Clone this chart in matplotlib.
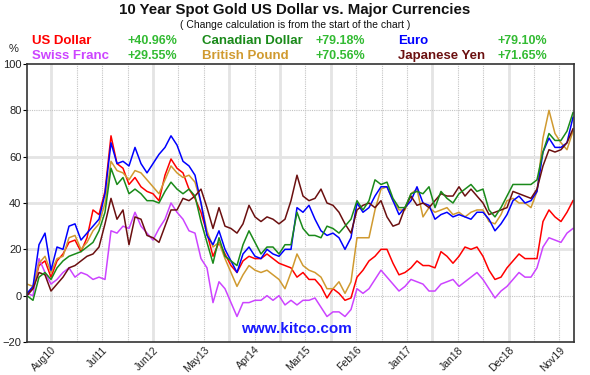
import numpy as np
import matplotlib
matplotlib.use("Agg")
import matplotlib.pyplot as plt

plt.rcParams['font.family'] = ['Liberation Sans', 'DejaVu Sans']

# sample index (evenly spaced samples across the 10-year window)
sample = np.arange(92)

usd = [1, 3, 13, 15, 8, 15, 18, 23, 24, 19, 25, 37, 35, 45, 69, 57, 55,
       48, 51, 47, 45, 44, 41, 52, 59, 55, 53, 46, 42, 36, 27, 17,
       23, 18, 13, 10, 15, 17, 16, 16, 18, 16, 14, 13, 12, 8, 10, 7,
       7, 4, -1, 3, 1, -2, -1, 8, 11, 15, 17, 20, 20, 14, 9, 10,
       12, 15, 13, 13, 12, 19, 17, 14, 17, 21, 20, 21, 17, 11, 7,
       8, 12, 15, 18, 16, 16, 16, 32, 37, 34, 32, 36, 41]
cad = [0, -2, 8, 10, 7, 12, 15, 17, 18, 19, 21, 23, 28, 36, 55, 48, 51,
       44, 46, 44, 41, 41, 40, 45, 49, 46, 44, 46, 43, 32, 23, 14,
       25, 17, 15, 13, 22, 28, 23, 18, 21, 21, 18, 22, 22, 36, 29, 26,
       26, 25, 30, 29, 27, 30, 33, 41, 37, 41, 50, 48, 49, 42, 38, 38,
       44, 45, 44, 47, 38, 45, 42, 40, 44, 46, 48, 45, 46, 37, 34,
       38, 43, 48, 48, 48, 48, 50, 62, 70, 67, 67, 71, 79]
eur = [1, 4, 22, 27, 11, 21, 20, 30, 31, 24, 27, 30, 33, 44, 66, 57, 58,
       56, 64, 57, 53, 57, 61, 64, 69, 65, 58, 56, 52, 40, 26, 22,
       28, 20, 15, 10, 18, 21, 17, 16, 20, 18, 17, 20, 20, 38, 36, 39,
       33, 28, 26, 27, 25, 20, 25, 40, 36, 38, 43, 47, 47, 41, 35, 38,
       41, 47, 40, 39, 33, 35, 36, 34, 35, 34, 33, 36, 36, 33, 28,
       31, 35, 41, 43, 40, 41, 45, 62, 68, 64, 64, 66, 77]
chf = [1, 0, 16, 10, 5, 7, 10, 12, 8, 10, 9, 7, 8, 7, 28, 27, 30,
       29, 36, 30, 27, 24, 29, 33, 40, 36, 33, 28, 27, 16, 12, -3,
       6, 3, -3, -9, -3, -3, -2, -2, 0, -2, 0, -4, -2, -4, -2, -2,
       -1, -5, -9, -7, -7, -9, -6, 3, 1, 3, 7, 11, 8, 5, 2, 4,
       7, 6, 5, 2, 2, 5, 6, 7, 4, 6, 8, 10, 7, 3, -1,
       2, 4, 7, 10, 8, 8, 12, 21, 25, 24, 23, 27, 29]
gbp = [5, 4, 14, 17, 10, 16, 17, 25, 26, 20, 23, 28, 31, 40, 58, 54, 53,
       50, 54, 53, 50, 47, 44, 50, 56, 53, 51, 52, 49, 40, 28, 21,
       23, 16, 10, 4, 9, 13, 11, 10, 11, 9, 7, 3, 10, 18, 13, 11,
       10, 8, 3, 3, 6, 1, 6, 25, 25, 25, 37, 46, 47, 41, 37, 37,
       44, 46, 34, 38, 36, 37, 38, 35, 36, 34, 36, 37, 37, 32, 31,
       35, 41, 42, 40, 40, 38, 45, 68, 80, 70, 66, 63, 71]
jpy = [0, 3, 10, 9, 2, 5, 8, 12, 13, 15, 17, 18, 21, 31, 42, 33, 37,
       22, 34, 33, 26, 25, 23, 30, 37, 37, 42, 41, 43, 46, 38, 29,
       38, 30, 29, 27, 31, 39, 34, 32, 34, 33, 31, 33, 41, 52, 43, 41,
       42, 46, 40, 39, 36, 31, 27, 37, 39, 40, 38, 41, 34, 30, 31, 38,
       43, 39, 40, 38, 41, 44, 43, 43, 47, 43, 46, 43, 40, 35, 36,
       37, 38, 45, 44, 43, 42, 46, 56, 63, 62, 63, 66, 72]

names = ["US Dollar", "Canadian Dollar", "Euro", "Swiss Franc", "British Pound", "Japanese Yen"]
changes = ["+40.96%", "+79.18%", "+79.10%", "+29.55%", "+70.56%", "+71.65%"]
colors = {"US Dollar": "#ff0000", "Canadian Dollar": "#1a8a1a", "Euro": "#0000ff",
          "Swiss Franc": "#cc44ff", "British Pound": "#d09a30", "Japanese Yen": "#6b1010"}

tick_labels = ["Aug10", "Jul11", "Jun12", "May13", "Apr14", "Mar15",
               "Feb16", "Jan17", "Jan18", "Dec18", "Nov19"]
grid_pos = [4.08 + 4.233 * j for j in range(21)]
solid_idx = [0, 4, 7, 9, 11, 15, 18]

fig = plt.figure(figsize=(5.9, 3.75), dpi=100)
ax = fig.add_axes([27/590, 1 - 342/375, (574 - 27)/590, (342 - 64)/375])

# grid
for j, g in enumerate(grid_pos):
    if j in solid_idx:
        ax.axvline(g, color="#e4e4e4", lw=2.0, zorder=0)
    else:
        ax.axvline(g, color="#c4c4c4", lw=0.8, ls=(0, (1, 1)), zorder=0)
for yv in [80, 0]:
    ax.axhline(yv, color="#c4c4c4", lw=0.8, ls=(0, (1, 1)), zorder=0)
for yv in [60, 40, 20]:
    ax.axhline(yv, color="#e4e4e4", lw=2.0, zorder=0)

series = {"US Dollar": usd, "Swiss Franc": chf, "British Pound": gbp,
          "Euro": eur, "Japanese Yen": jpy, "Canadian Dollar": cad}
for name, vals in series.items():
    ax.plot(sample, vals, color=colors[name], lw=1.1, zorder=2)

ax.set_xlim(0, 91.17)
ax.set_ylim(-20, 100)
ax.set_yticks(range(-20, 101, 20))
ax.set_xticks(grid_pos[::2])
ax.set_xticklabels(tick_labels, rotation=45, ha="right", rotation_mode="anchor",
                   fontsize=7.5, color="#222222")
ax.tick_params(axis="x", length=0, pad=2)
ax.tick_params(axis="y", length=3, width=0.8, labelsize=8, labelcolor="#222222", pad=1)
for s in ax.spines.values():
    s.set_color("#333333")
    s.set_linewidth(1.2)

ax.text((296 - 27) / 547, 0.02, "www.kitco.com", transform=ax.transAxes, ha="center",
        va="bottom", fontsize=11, fontweight="bold", color="#1a1aff")

fig.text(295/590, 1 - 10/375, "10 Year Spot Gold US Dollar vs. Major Currencies",
         ha="center", va="center", fontsize=10.8, fontweight="bold", color="#111111")
fig.text(295/590, 1 - 24.5/375, "( Change calculation is from the start of the chart )",
         ha="center", va="center", fontsize=7.5, color="#111111")

name_x = [32, 202, 398]
val_x = [177, 365, 547]
rows_y = [41, 56]
order = [["US Dollar", "Canadian Dollar", "Euro"], ["Swiss Franc", "British Pound", "Japanese Yen"]]
for r, row in enumerate(order):
    for c, nm in enumerate(row):
        fig.text(name_x[c]/590, 1 - rows_y[r]/375, nm, ha="left", va="center",
                 fontsize=9.5, fontweight="bold", color=colors[nm])
        fig.text(val_x[c]/590, 1 - rows_y[r]/375, changes[names.index(nm)], ha="right",
                 va="center", fontsize=9, fontweight="bold", color="#33bb33")
fig.text(14/590, 1 - 49/375, "%", ha="center", va="center", fontsize=8, color="#222222")

fig.savefig("out.png", dpi=100, facecolor="white")
